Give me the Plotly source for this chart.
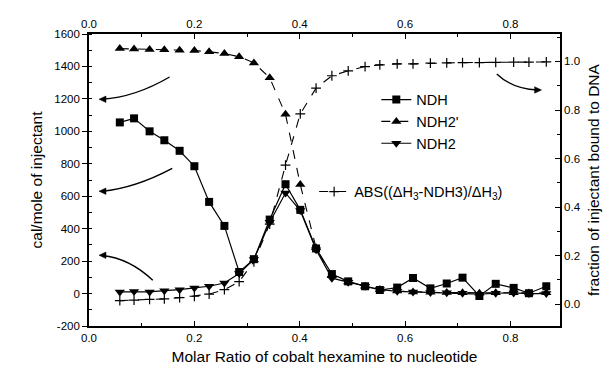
import plotly.graph_objects as go

# ---- data ----
molar_ratio = [0.0585, 0.0855, 0.115, 0.143, 0.172, 0.200, 0.228, 0.257, 0.285, 0.313,
               0.343, 0.373, 0.401, 0.431, 0.461, 0.492, 0.524, 0.552, 0.585, 0.615,
               0.648, 0.679, 0.709, 0.741, 0.772, 0.806, 0.835, 0.868]
ndh = [1055, 1080, 1000, 945, 880, 785, 565, 417, 133, 212,
       456, 674, 516, 278, 120, 75, 45, 22, 37, 96,
       32, 62, 98, -15, 60, 35, 2, 45]
ndh2p = [1510, 1508, 1505, 1503, 1500, 1498, 1490, 1480, 1460, 1422,
         1330, 1105, 672, 282, 110, 72, 45, 25, 15, 10,
         8, 6, 5, 2, 5, 5, 4, 5]
ndh2 = [10, 12, 10, 18, 24, 35, 45, 65, 123, 210,
        440, 620, 512, 270, 95, 70, 45, 25, 14, 10,
        6, 5, 2, -4, 2, 4, 0, 0]
abs_frac = [0.015, 0.017, 0.020, 0.022, 0.027, 0.033, 0.042, 0.060, 0.093, 0.175,
            0.33, 0.573, 0.784, 0.890, 0.941, 0.961, 0.979, 0.986, 0.990, 0.990,
            0.993, 0.994, 0.995, 0.995, 0.996, 0.997, 0.997, 0.998]

x_ticks = [0.0, 0.2, 0.4, 0.6, 0.8]
y_ticks = [-200, 0, 200, 400, 600, 800, 1000, 1200, 1400, 1600]
y2_ticks = [0.0, 0.2, 0.4, 0.6, 0.8, 1.0]

FONT = "Liberation Sans, Arial, sans-serif"
BLACK = "#000000"

fig = go.Figure()
fig.add_trace(go.Scatter(x=molar_ratio, y=ndh, name="NDH", mode="lines+markers",
                         line=dict(color=BLACK, width=1.2),
                         marker=dict(symbol="square", size=8, color=BLACK)))
fig.add_trace(go.Scatter(x=molar_ratio, y=ndh2p, name="NDH2'", mode="lines+markers",
                         line=dict(color=BLACK, width=1.1, dash="dash"),
                         marker=dict(symbol="triangle-up", size=9, color=BLACK)))
fig.add_trace(go.Scatter(x=molar_ratio, y=ndh2, name="NDH2", mode="lines+markers",
                         line=dict(color=BLACK, width=1.2),
                         marker=dict(symbol="triangle-down", size=9, color=BLACK)))
fig.add_trace(go.Scatter(x=molar_ratio, y=abs_frac, name="ABS((ΔH<sub>3</sub>-NDH3)/ΔH<sub>3</sub>)",
                         mode="lines+markers", xaxis="x2", yaxis="y2", legend="legend2",
                         line=dict(color=BLACK, width=1.1, dash="dash"),
                         marker=dict(symbol="cross-thin", size=7,
                                     line=dict(color=BLACK, width=1.2), color=BLACK)))

XR = [0, 0.894]
tickfont = dict(family=FONT, size=11.5, color=BLACK)
axis_common = dict(showline=True, linecolor=BLACK, linewidth=1.6, showgrid=False,
                   zeroline=False, tickcolor=BLACK, ticklen=5, tickwidth=1.3,
                   tickfont=tickfont)
title_font = dict(family=FONT, size=15.5, color=BLACK)

fig.update_layout(
    width=612, height=375,
    margin=dict(l=89, r=49, t=34, b=49),
    paper_bgcolor="white", plot_bgcolor="white",
    font=dict(family=FONT, color=BLACK),
    xaxis=dict(range=XR, tickvals=x_ticks, ticktext=[f"{v:.1f}" for v in x_ticks],
               ticks="inside", minor=dict(ticks="inside", dtick=0.1, ticklen=3, tickcolor=BLACK),
               title=dict(text="Molar Ratio of cobalt hexamine to nucleotide",
                          font=title_font, standoff=9),
               **axis_common),
    xaxis2=dict(range=XR, overlaying="x", side="top", anchor="y",
                tickvals=x_ticks, ticktext=[f"{v:.1f}" for v in x_ticks],
                ticks="inside", minor=dict(ticks="inside", dtick=0.1, ticklen=3, tickcolor=BLACK),
                **axis_common),
    yaxis=dict(range=[-200, 1600], tickvals=y_ticks, ticktext=[str(v) for v in y_ticks],
               ticks="outside", minor=dict(ticks="inside", dtick=100, ticklen=3, tickcolor=BLACK),
               title=dict(text="cal/mole of injectant", font=title_font, standoff=8),
               **axis_common),
    yaxis2=dict(range=[-0.0896, 1.113], overlaying="y", side="right", anchor="x",
                tickvals=y2_ticks, ticktext=[f"{v:.1f}" for v in y2_ticks],
                ticks="inside", minor=dict(ticks="inside", dtick=0.1, ticklen=3, tickcolor=BLACK),
                title=dict(text="fraction of injectant bound to DNA", font=title_font, standoff=8),
                **axis_common),
    legend=dict(x=0.61, y=0.83, xanchor="left", yanchor="top", bgcolor="rgba(0,0,0,0)",
                font=dict(family=FONT, size=14.5, color=BLACK), tracegroupgap=0),
    legend2=dict(x=0.478, y=0.515, xanchor="left", yanchor="top", bgcolor="rgba(0,0,0,0)",
                 font=dict(family=FONT, size=14.5, color=BLACK)),
    showlegend=True,
)

# curved arrows (shapes in data coordinates) with filled heads
HL = 7 / 530.0      # head length in x units (~7 px)
HW = 3.2 / 0.1619   # half head width in y units (~3 px)
arrows = [
    ("M 0.153,1335 Q 0.087,1210 0.025,1198", 0.019, 1198, -1),
    ("M 0.158,772 Q 0.087,650 0.025,631", 0.019, 631, -1),
    ("M 0.121,82 Q 0.077,218 0.025,235", 0.019, 236, -1),
    ("M 0.774,1354 Q 0.804,1261 0.851,1255", 0.859, 1255, 1),
]
for path, hx, hy, direction in arrows:
    fig.add_shape(type="path", path=path, xref="x", yref="y",
                  line=dict(color=BLACK, width=1.4))
    bx = hx - direction * HL
    head = f"M {hx},{hy} L {bx},{hy + HW} L {bx},{hy - HW} Z"
    fig.add_shape(type="path", path=head, xref="x", yref="y",
                  line=dict(color=BLACK, width=0.5), fillcolor=BLACK)

fig.write_html("out.html")
